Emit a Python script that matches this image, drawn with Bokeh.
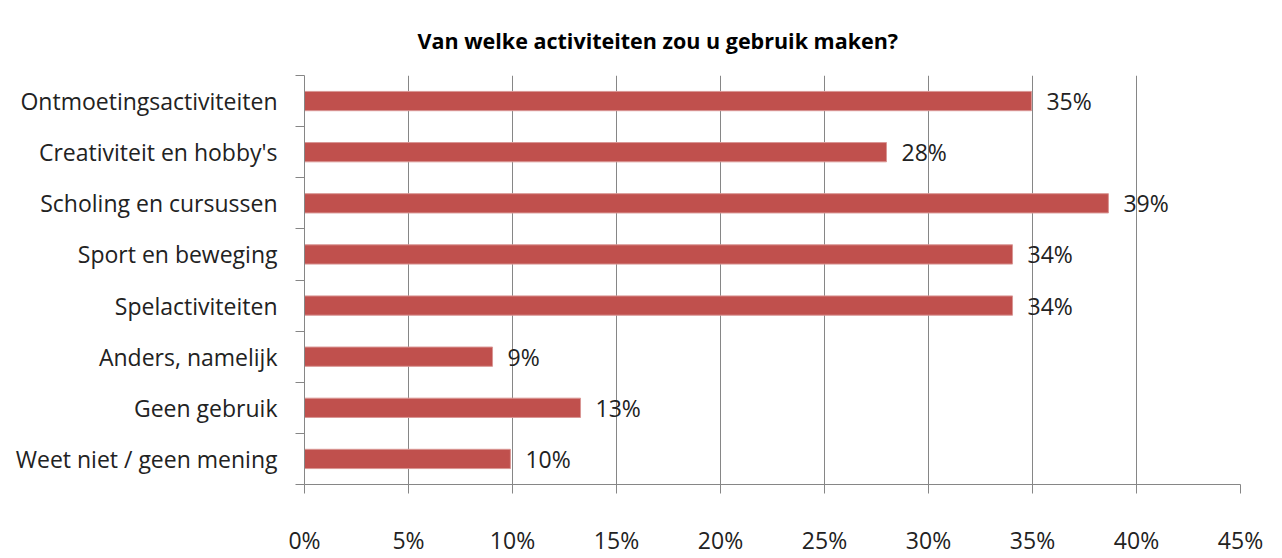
from bokeh.plotting import figure
from bokeh.models import ColumnDataSource, FixedTicker, PrintfTickFormatter, Range1d
from bokeh.core.properties import value
from bokeh.embed import file_html
from bokeh.resources import INLINE

categories = ["Ontmoetingsactiviteiten", "Creativiteit en hobby's", "Scholing en cursussen",
              "Sport en beweging", "Spelactiviteiten", "Anders, namelijk", "Geen gebruik",
              "Weet niet / geen mening"]
values = [34.95, 27.98, 38.65, 34.04, 34.04, 9.04, 13.27, 9.9]
x_ticks = [0, 5, 10, 15, 20, 25, 30, 35, 40, 45]
title_text = "Van welke activiteiten zou u gebruik maken?"

n = len(categories)
ypos = [n - 0.5 - i for i in range(n)]
labels = [f"{round(v)}%" for v in values]

src = ColumnDataSource(dict(y=ypos, v=values, lab=labels, cat=categories))

W, H = 1274, 558
BL, BT = 304, 75
BR = W - 1240
BB = H - 501
p = figure(width=W, height=H, output_backend="svg", toolbar_location=None,
           x_range=Range1d(0, 45), y_range=Range1d(0, n), title=title_text,
           min_border_left=BL, min_border_right=BR, min_border_top=BT, min_border_bottom=BB)
p.outline_line_color = None
p.background_fill_color = "white"
p.border_fill_color = "white"

p.title.align = "left"
p.title.offset = 113
p.title.standoff = 37
p.title.vertical_align = "top"
p.title.text_font = "Open Sans"
p.title.text_font_style = "bold"
p.title.text_font_size = "21.5px"
p.title.text_color = "#000000"

FS = "23px"
p.hbar(y="y", right="v", left=0, height=0.377, source=src,
       fill_color="#C0504D", line_color="#D99694", line_width=1)
p.text(x="v", y="y", text="lab", source=src, x_offset=15, text_baseline="middle",
       text_align="left", text_font=value("Open Sans"), text_font_size=FS, text_color="#222222")

# x axis
p.xaxis.ticker = FixedTicker(ticks=x_ticks)
p.xaxis.formatter = PrintfTickFormatter(format="%d%%")
p.xaxis.major_label_text_font = "Open Sans"
p.xaxis.major_label_text_font_size = FS
p.xaxis.major_label_text_color = "#222222"
p.xaxis.axis_line_color = "#868686"
p.xaxis.major_tick_line_color = "#868686"
p.xaxis.major_tick_out = 9
p.xaxis.major_tick_in = 0
p.xaxis.minor_tick_line_color = None
p.xaxis.major_label_standoff = 30

# y axis
p.yaxis.ticker = FixedTicker(ticks=ypos, minor_ticks=list(range(n + 1)))
p.yaxis.major_label_overrides = {y: c for y, c in zip(ypos, categories)}
p.yaxis.major_label_text_font = "Open Sans"
p.yaxis.major_label_text_font_size = FS
p.yaxis.major_label_text_color = "#222222"
p.yaxis.axis_line_color = "#868686"
p.yaxis.major_tick_line_color = None
p.yaxis.major_tick_out = 0
p.yaxis.major_tick_in = 0
p.yaxis.minor_tick_line_color = "#868686"
p.yaxis.minor_tick_out = 9
p.yaxis.minor_tick_in = 0
p.yaxis.major_label_standoff = 18

p.xgrid.ticker = FixedTicker(ticks=x_ticks)
p.xgrid.grid_line_color = "#868686"
p.ygrid.grid_line_color = None

open("out.html", "w").write(file_html(p, INLINE))
